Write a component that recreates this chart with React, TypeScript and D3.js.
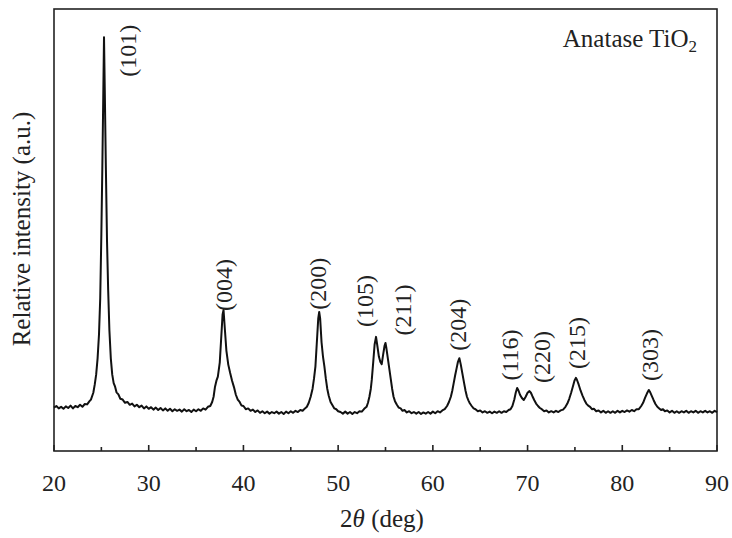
import React from 'react';
import * as d3 from 'd3';

// XRD pattern: [2theta (deg), relative intensity]
const pattern: [number, number][] = [
  [20.0, 108], [20.25, 112], [20.5, 106], [20.75, 110], [21.0, 105], [21.25, 111], [21.5, 107], [21.75, 113],
  [22.0, 106], [22.25, 112], [22.5, 109], [22.75, 115], [23.0, 110], [23.25, 117], [23.5, 116], [23.75, 124],
  [23.9, 128], [24.15, 145], [24.3, 165], [24.45, 190], [24.6, 230], [24.75, 290], [24.88, 380], [25.0, 540],
  [25.1, 700], [25.2, 880], [25.28, 1030], [25.36, 900], [25.48, 700], [25.6, 520], [25.72, 400], [25.85, 300],
  [26.0, 230], [26.15, 190], [26.3, 169], [26.45, 160], [26.6, 146], [26.8, 141], [27.0, 130], [27.25, 128],
  [27.5, 120], [27.75, 122], [28.0, 115], [28.25, 118], [28.5, 111], [28.75, 115], [29.0, 109], [29.25, 113],
  [29.5, 106], [29.75, 111], [30.0, 105], [30.25, 109], [30.5, 103], [30.75, 108], [31.0, 102], [31.25, 107],
  [31.5, 101], [31.75, 106], [32.0, 100], [32.25, 105], [32.5, 99], [32.75, 104], [33.0, 100], [33.25, 103],
  [33.5, 98], [33.75, 104], [34.0, 99], [34.25, 102], [34.5, 97], [34.75, 103], [35.0, 99], [35.25, 104],
  [35.5, 100], [35.75, 106], [36.0, 103], [36.25, 110], [36.5, 112], [36.7, 122], [36.85, 135], [37.0, 160],
  [37.15, 175], [37.3, 185], [37.5, 220], [37.65, 280], [37.8, 340], [37.9, 351], [38.05, 300], [38.2, 250],
  [38.4, 215], [38.6, 194], [38.8, 175], [39.0, 159], [39.2, 140], [39.4, 128], [39.6, 122], [39.8, 113],
  [40.0, 112], [40.25, 104], [40.5, 106], [40.75, 100], [41.0, 103], [41.25, 97], [41.5, 101], [41.75, 95],
  [42.0, 99], [42.25, 94], [42.5, 98], [42.75, 93], [43.0, 97], [43.25, 94], [43.5, 98], [43.75, 93],
  [44.0, 97], [44.25, 92], [44.5, 98], [44.75, 94], [45.0, 99], [45.25, 95], [45.5, 100], [45.75, 97],
  [46.0, 102], [46.25, 100], [46.5, 106], [46.7, 110], [46.9, 120], [47.1, 135], [47.3, 155], [47.45, 180],
  [47.6, 210], [47.75, 270], [47.9, 330], [48.0, 346], [48.1, 330], [48.25, 270], [48.4, 235], [48.55, 210],
  [48.7, 180], [48.85, 155], [49.0, 138], [49.2, 122], [49.4, 114], [49.6, 106], [49.8, 104], [50.0, 99],
  [50.25, 97], [50.5, 93], [50.75, 98], [51.0, 93], [51.25, 97], [51.5, 92], [51.75, 97], [52.0, 94],
  [52.25, 99], [52.5, 98], [52.75, 105], [53.0, 110], [53.15, 120], [53.3, 135], [53.45, 155], [53.55, 177],
  [53.7, 220], [53.85, 265], [54.0, 284], [54.12, 265], [54.3, 235], [54.45, 222], [54.6, 216], [54.75, 240],
  [54.9, 262], [55.0, 269], [55.1, 255], [55.25, 230], [55.4, 205], [55.55, 180], [55.7, 155], [55.85, 135],
  [56.0, 124], [56.2, 115], [56.4, 108], [56.6, 106], [56.8, 100], [57.0, 102], [57.25, 96], [57.5, 99],
  [57.75, 94], [58.0, 97], [58.25, 93], [58.5, 97], [58.75, 92], [59.0, 96], [59.25, 93], [59.5, 97],
  [59.75, 93], [60.0, 98], [60.25, 94], [60.5, 99], [60.75, 96], [61.0, 101], [61.25, 104], [61.5, 112],
  [61.7, 122], [61.9, 135], [62.05, 150], [62.2, 169], [62.35, 188], [62.5, 205], [62.65, 222], [62.8, 231],
  [62.95, 215], [63.1, 195], [63.3, 169], [63.45, 150], [63.6, 135], [63.75, 126], [63.9, 119], [64.1, 112],
  [64.3, 106], [64.5, 104], [64.75, 99], [65.0, 101], [65.25, 96], [65.5, 99], [65.75, 95], [66.0, 98],
  [66.25, 94], [66.5, 98], [66.75, 95], [67.0, 99], [67.25, 95], [67.5, 99], [67.75, 97], [68.0, 102],
  [68.2, 104], [68.4, 112], [68.6, 128], [68.75, 145], [68.9, 157], [69.05, 150], [69.2, 140], [69.4, 132],
  [69.6, 127], [69.8, 135], [70.0, 145], [70.2, 149], [70.35, 145], [70.5, 137], [70.7, 127], [70.9, 118],
  [71.1, 112], [71.3, 107], [71.5, 104], [71.75, 99], [72.0, 101], [72.25, 96], [72.5, 99], [72.75, 96],
  [73.0, 100], [73.25, 97], [73.5, 101], [73.75, 103], [74.0, 110], [74.2, 118], [74.4, 130], [74.6, 145],
  [74.8, 162], [74.95, 175], [75.1, 182], [75.2, 178], [75.4, 165], [75.6, 150], [75.8, 138], [76.0, 127],
  [76.2, 118], [76.4, 113], [76.6, 110], [76.8, 104], [77.0, 105], [77.25, 99], [77.5, 101], [77.75, 96],
  [78.0, 100], [78.25, 95], [78.5, 99], [78.75, 95], [79.0, 99], [79.25, 95], [79.5, 100], [79.75, 96],
  [80.0, 100], [80.25, 97], [80.5, 101], [80.75, 98], [81.0, 102], [81.25, 99], [81.5, 104], [81.75, 104],
  [82.0, 112], [82.2, 120], [82.4, 132], [82.6, 143], [82.8, 152], [82.95, 146], [83.1, 138], [83.3, 127],
  [83.5, 117], [83.7, 110], [83.9, 106], [84.1, 102], [84.3, 104], [84.5, 99], [84.75, 101], [85.0, 96],
  [85.25, 100], [85.5, 95], [85.75, 99], [86.0, 95], [86.25, 99], [86.5, 96], [86.75, 100], [87.0, 95],
  [87.25, 99], [87.5, 96], [87.75, 100], [88.0, 95], [88.25, 99], [88.5, 96], [88.75, 100], [89.0, 96],
  [89.25, 99], [89.5, 95], [89.75, 100], [90.0, 97],
];

// Miller index labels and where they sit (in data units)
const peakNames = ['(101)', '(004)', '(200)', '(105)', '(211)', '(204)', '(116)', '(220)', '(215)', '(303)'];
const labelTheta = [27.8, 37.96, 47.89, 52.85, 56.83, 62.67, 68.17, 71.52, 75.21, 82.95];
const labelLevel = [996, 413, 416, 373, 351, 314, 239, 234, 269, 239];

const xTicks = [20, 30, 40, 50, 60, 70, 80, 90];
const xMinorTicks = [25, 35, 45, 55, 65, 75, 85];

const width = 732;
const height = 538;
const margin = { top: 9, right: 15, bottom: 87, left: 54 };
const serif = { fontFamily: "'Liberation Serif', 'Times New Roman', Times, serif" };

const App: React.FC = () => {
  const x = d3.scaleLinear().domain([20, 90]).range([margin.left, width - margin.right]);
  const y = d3.scaleLinear().domain([0, 1100]).range([height - margin.bottom, margin.top]);

  const line = d3.line<[number, number]>()
    .x(d => x(d[0]))
    .y(d => y(d[1]));

  const x0 = margin.left;
  const x1 = width - margin.right;
  const y0 = height - margin.bottom;
  const y1 = margin.top;

  return (
    <svg width={width} height={height} style={{ position: 'absolute', left: 0, top: 0, background: '#fff', ...serif }}>
      {/* frame */}
      <rect x={x0} y={y1} width={x1 - x0} height={y0 - y1} fill="none" stroke="#222" strokeWidth={1.6} />

      {/* ticks, pointing inward */}
      {xTicks.map(t => (
        <g key={`t-${t}`}>
          <line x1={x(t)} x2={x(t)} y1={y0} y2={y0 - 6} stroke="#222" strokeWidth={1.6} />
          <text x={x(t)} y={491} textAnchor="middle" fontSize={24} fill="#222" style={serif}>{t}</text>
        </g>
      ))}
      {xMinorTicks.map(t => (
        <line key={`m-${t}`} x1={x(t)} x2={x(t)} y1={y0} y2={y0 - 4} stroke="#222" strokeWidth={1.6} />
      ))}

      {/* pattern */}
      <path d={line(pattern) ?? ''} fill="none" stroke="#111" strokeWidth={2} strokeLinejoin="round" />

      {/* hkl labels */}
      {peakNames.map((name, i) => (
        <text key={name} transform={`translate(${x(labelTheta[i])},${y(labelLevel[i])}) rotate(-90)`}
          textAnchor="middle" dominantBaseline="central" fontSize={24} fill="#222" style={serif}>{name}</text>
      ))}

      <text x={697} y={47} textAnchor="end" fontSize={25} fill="#222" style={serif}>
        Anatase TiO<tspan fontSize={17} dy={5}>2</tspan>
      </text>

      {/* axis titles */}
      <text x={382} y={527} textAnchor="middle" fontSize={25} fill="#222" style={serif}>
        2<tspan fontStyle="italic">θ</tspan> (deg)
      </text>
      <text transform={`translate(30,229) rotate(-90)`} textAnchor="middle" fontSize={25} fill="#222" style={serif}>
        Relative intensity (a.u.)
      </text>
    </svg>
  );
};

export default App;
